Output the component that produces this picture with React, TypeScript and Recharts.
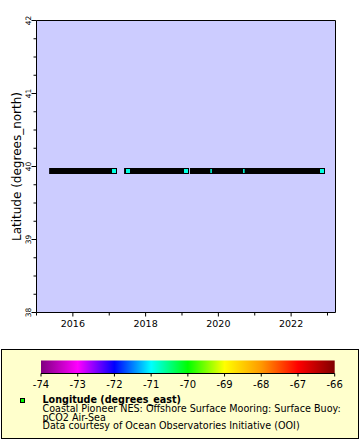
import React from "react";
import { ComposedChart, Line, Scatter, XAxis, YAxis, CartesianGrid, ReferenceArea } from "recharts";

// station position (single fixed mooring)
const LAT = 39.94;

// deployments, decimal years
const deployStart = [2015.43, 2017.49, 2019.3];
const deployEnd = [2017.12, 2019.09, 2022.83];
// markers whose fill shows on top of the pile
const shownMarkers = [2017.14, 2017.52, 2019.11, 2022.85];
// short breaks where a fill peeks through
const breakMarkers = [2019.8, 2020.7];

const yearTicks = [2015, 2016, 2017, 2018, 2019, 2020, 2021, 2022, 2023];
const latTicks = [38, 38.25, 38.5, 38.75, 39, 39.25, 39.5, 39.75, 40, 40.25, 40.5, 40.75, 41, 41.25, 41.5, 41.75, 42];
const colorTicks = [-74, -73, -72, -71, -70, -69, -68, -67, -66];
const colorStops = ["#800080", "#ff00ff", "#0000ff", "#00ffff", "#00ff00", "#ffff00", "#ff9900", "#ff0000", "#800000"];

const markerFill = "#00ffe0"; // -70.88 on the colour bar
const font = "'DejaVu Sans', sans-serif";

const MarkerSquare = (p: any) => {
    const x = Math.round(p.cx);
    const y = Math.round(p.cy);
    return <rect x={x - 2.5} y={y - 2.5} width={5} height={5} fill={markerFill} stroke="#000" strokeWidth={1} />;
};

const BreakMark = (p: any) => {
    const y = Math.round(p.cy);
    return <rect x={p.cx - 0.75} y={y - 2} width={1.5} height={4} fill={markerFill} />;
};

const YearTick = (p: any) => {
    const { x, y, payload } = p;
    const major = payload.value % 2 === 0;
    return (
        <g>
            <line x1={x} x2={x} y1={y} y2={y + (major ? 4 : 3)} stroke="#000" />
            {major && (
                <text x={x} y={y + 14.5} textAnchor="middle" fontSize={9.5} fontFamily={font} fill="#000">
                    {payload.value}
                </text>
            )}
        </g>
    );
};

const LatTick = (p: any) => {
    const { x, y, payload } = p;
    const major = Number.isInteger(payload.value);
    return (
        <g>
            <line x1={x - (major ? 5 : 3)} x2={x} y1={y} y2={y} stroke="#000" />
            {major && (
                <text x={x - 6} y={y} textAnchor="middle" fontSize={7.5} fontFamily={font} fill="#000"
                    transform={`rotate(-90, ${x - 6}, ${y})`}>
                    {payload.value}
                </text>
            )}
        </g>
    );
};

const LatLabel = (p: any) => {
    const vb = p.viewBox;
    const cx = vb.x + 21;
    const cy = vb.y + vb.height / 2;
    return (
        <text x={cx} y={cy} textAnchor="middle" fontSize={12} fontFamily={font} fill="#000"
            transform={`rotate(-90, ${cx}, ${cy})`}>
            Latitude (degrees_north)
        </text>
    );
};

const ColorTick = (p: any) => {
    const { x, y, payload } = p;
    return (
        <text x={x} y={y + 11.5} textAnchor="middle" fontSize={10} fontFamily={font} fill="#000">
            {payload.value}
        </text>
    );
};

export default function App() {
    return (
        <div style={{ position: "absolute", left: 0, top: 0, width: 360, height: 440, background: "#fff", fontFamily: font }}>
            {/* main plot */}
            <div style={{ position: "absolute", left: 0, top: 0 }}>
                <ComposedChart width={360} height={345} margin={{ top: 20.5, right: 24.5, left: 0, bottom: 0 }}>
                    <CartesianGrid fill="#ccccff" horizontal={false} vertical={false} />
                    <XAxis type="number" dataKey="t" domain={[2015, 2023.22]} ticks={yearTicks} interval={0}
                        allowDataOverflow height={32.5} axisLine={false} tickLine={false} tickSize={0} tickMargin={0}
                        tick={YearTick} />
                    <YAxis type="number" dataKey="lat" domain={[38, 42]} ticks={latTicks} interval={0}
                        allowDataOverflow width={36.5} axisLine={false} tickLine={false} tickSize={0} tickMargin={0}
                        tick={LatTick} label={{ content: LatLabel }} />
                    {deployStart.map((s, i) => (
                        <Line key={i} data={[{ t: s, lat: LAT }, { t: deployEnd[i], lat: LAT }]} dataKey="lat"
                            stroke="#000" strokeWidth={6} strokeLinecap="square" dot={false} activeDot={false}
                            isAnimationActive={false} />
                    ))}
                    <Scatter data={breakMarkers.map((t) => ({ t, lat: LAT }))} dataKey="lat" shape={BreakMark}
                        isAnimationActive={false} />
                    <Scatter data={shownMarkers.map((t) => ({ t, lat: LAT }))} dataKey="lat" shape={MarkerSquare}
                        isAnimationActive={false} />
                    <ReferenceArea x1={2015} x2={2023.22} y1={38} y2={42} fill="none" stroke="#000" strokeWidth={1} />
                </ComposedChart>
            </div>

            {/* legend box */}
            <svg width={360} height={440} style={{ position: "absolute", left: 0, top: 0 }}>
                <rect x={1.5} y={349.5} width={357} height={89} fill="#ffffcc" stroke="#000" />
                <rect x={20.5} y={398.5} width={4} height={4} fill="#00ff00" stroke="#000" />
                <text x={42.5} y={403.3} fontSize={9.6} fontWeight="bold" fontFamily={font}>Longitude (degrees_east)</text>
                <text x={42.5} y={412} fontSize={9.6} fontFamily={font}>Coastal Pioneer NES: Offshore Surface Mooring: Surface Buoy:</text>
                <text x={42.5} y={420.7} fontSize={9.6} fontFamily={font}>pCO2 Air-Sea</text>
                <text x={42.5} y={429.4} fontSize={9.6} fontFamily={font}>Data courtesy of Ocean Observatories Initiative (OOI)</text>
            </svg>

            {/* colour bar */}
            <div style={{ position: "absolute", left: 0, top: 340 }}>
                <ComposedChart width={360} height={60} data={colorTicks.map((v) => ({ v, y: 1 }))}
                    margin={{ top: 20.5, right: 25.3, left: 41, bottom: 0 }}>
                    <defs>
                        <linearGradient id="rainbow" x1="0" y1="0" x2="1" y2="0">
                            {colorStops.map((c, i) => (
                                <stop key={i} offset={i / (colorStops.length - 1)} stopColor={c} />
                            ))}
                        </linearGradient>
                    </defs>
                    <XAxis type="number" dataKey="v" domain={[-74, -66]} ticks={colorTicks} interval={0}
                        allowDataOverflow height={26.5} axisLine={{ stroke: "#000" }} tickLine={{ stroke: "#000" }}
                        tickSize={3} tickMargin={0} tick={ColorTick} />
                    <YAxis type="number" dataKey="y" domain={[0, 1]} hide />
                    <ReferenceArea x1={-74} x2={-66} fill="url(#rainbow)" fillOpacity={1} stroke="none" ifOverflow="visible" />
                </ComposedChart>
            </div>
        </div>
    );
}
